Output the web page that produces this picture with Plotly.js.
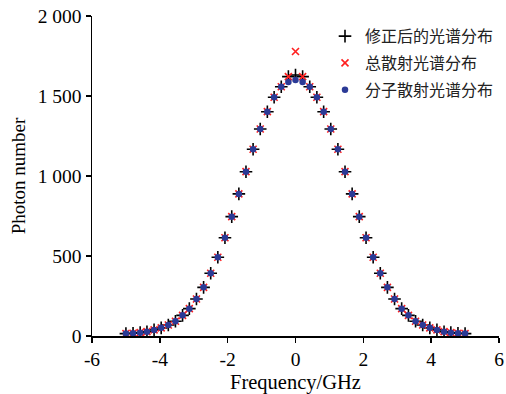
<!DOCTYPE html>
<html>
<head>
<meta charset="utf-8">
<script src="https://cdn.plot.ly/plotly-3.0.1.min.js"></script>
<style>
html,body{margin:0;padding:0;background:#fff;}
#chart{width:506px;height:394px;}
</style>
</head>
<body>
<div id="chart"></div>
<script>
// Frequency (GHz)
const freq = [-5, -4.79, -4.58, -4.38, -4.17, -3.96, -3.75, -3.54, -3.33, -3.13, -2.92, -2.71, -2.5, -2.29, -2.08, -1.88, -1.67, -1.46, -1.25, -1.04, -0.83, -0.63, -0.42, -0.21,
  0,
  0.21, 0.42, 0.63, 0.83, 1.04, 1.25, 1.46, 1.67, 1.88, 2.08, 2.29, 2.5, 2.71, 2.92, 3.13, 3.33, 3.54, 3.75, 3.96, 4.17, 4.38, 4.58, 4.79, 5];

// 修正后的光谱分布 (corrected spectrum)
const corrected = [15, 17, 21, 27, 38, 51, 69, 92, 129, 171, 231, 304, 392, 492, 614, 746, 888, 1027, 1167, 1294, 1402, 1492, 1558, 1621,
  1631,
  1621, 1558, 1492, 1402, 1294, 1167, 1027, 888, 746, 614, 492, 392, 304, 231, 171, 129, 92, 69, 51, 38, 27, 21, 17, 15];

// 总散射光谱分布 (total scattering spectrum)
const total = [15, 17, 21, 27, 38, 51, 69, 92, 129, 171, 231, 304, 392, 492, 614, 746, 888, 1027, 1167, 1294, 1402, 1492, 1558, 1621,
  1778,
  1621, 1558, 1492, 1402, 1294, 1167, 1027, 888, 746, 614, 492, 392, 304, 231, 171, 129, 92, 69, 51, 38, 27, 21, 17, 15];

// 分子散射光谱分布 (molecular scattering spectrum)
const molecular = [15, 17, 21, 27, 38, 51, 69, 92, 129, 171, 231, 304, 392, 492, 614, 746, 888, 1027, 1167, 1294, 1402, 1492, 1558, 1588,
  1600,
  1588, 1558, 1492, 1402, 1294, 1167, 1027, 888, 746, 614, 492, 392, 304, 231, 171, 129, 92, 69, 51, 38, 27, 21, 17, 15];

const seriesNames = ['修正后的光谱分布', '总散射光谱分布', '分子散射光谱分布'];

const xTickVals = [-6, -4, -2, 0, 2, 4, 6];
const xTickText = ['-6', '-4', '-2', '0', '2', '4', '6'];
const yTickVals = [0, 500, 1000, 1500, 2000];
const yTickText = ['0', '500', '1 000', '1 500', '2 000'];

const serif = 'Liberation Serif, Times New Roman, serif';

const traces = [
  {
    x: freq, y: corrected, name: seriesNames[0], type: 'scatter', mode: 'markers',
    legendgroup: 'g1',
    marker: {symbol: 'cross-thin', size: 9, color: '#000', line: {color: '#000', width: 1.6}}
  },
  {
    x: freq, y: total, name: seriesNames[1], type: 'scatter', mode: 'markers',
    legendgroup: 'g2',
    marker: {symbol: 'x-thin', size: 7, color: '#ff1f1f', line: {color: '#ff1f1f', width: 1.6}}
  },
  {
    x: freq, y: molecular, name: seriesNames[2], type: 'scatter', mode: 'markers',
    legendgroup: 'g3',
    marker: {symbol: 'circle', size: 6.5, color: '#2b3a96', line: {width: 0}}
  }
];

const layout = {
  width: 506, height: 394,
  margin: {l: 92, r: 7, t: 16, b: 58},
  paper_bgcolor: '#ffffff', plot_bgcolor: '#ffffff',
  font: {family: serif, size: 19, color: '#000'},
  showlegend: true,
  legend: {
    x: 1.0, y: 0.99, xanchor: 'right', yanchor: 'top',
    bgcolor: 'rgba(0,0,0,0)', borderwidth: 0,
    font: {family: 'Noto Sans CJK SC, sans-serif', size: 16, color: '#222'},
    itemwidth: 30, traceorder: 'grouped', tracegroupgap: 3
  },
  xaxis: {
    range: [-6, 6], tickvals: xTickVals, ticktext: xTickText,
    showgrid: false, zeroline: false, showline: true, linecolor: '#000', linewidth: 1.5,
    ticks: 'outside', ticklen: 5, tickwidth: 1.5, tickcolor: '#000',
    tickfont: {family: serif, size: 19.5},
    title: {text: 'Frequency/GHz', font: {family: serif, size: 20.5}, standoff: 5},
    mirror: false
  },
  yaxis: {
    range: [0, 2000], tickvals: yTickVals, ticktext: yTickText,
    showgrid: false, zeroline: false, showline: true, linecolor: '#000', linewidth: 1.5,
    ticks: 'outside', ticklen: 5, tickwidth: 1.5, tickcolor: '#000',
    tickfont: {family: serif, size: 19.5},
    title: {text: 'Photon number', font: {family: serif, size: 19}, standoff: 7},
    mirror: false
  }
};

Plotly.newPlot('chart', traces, layout, {staticPlot: true, displayModeBar: false});
</script>
</body>
</html>
